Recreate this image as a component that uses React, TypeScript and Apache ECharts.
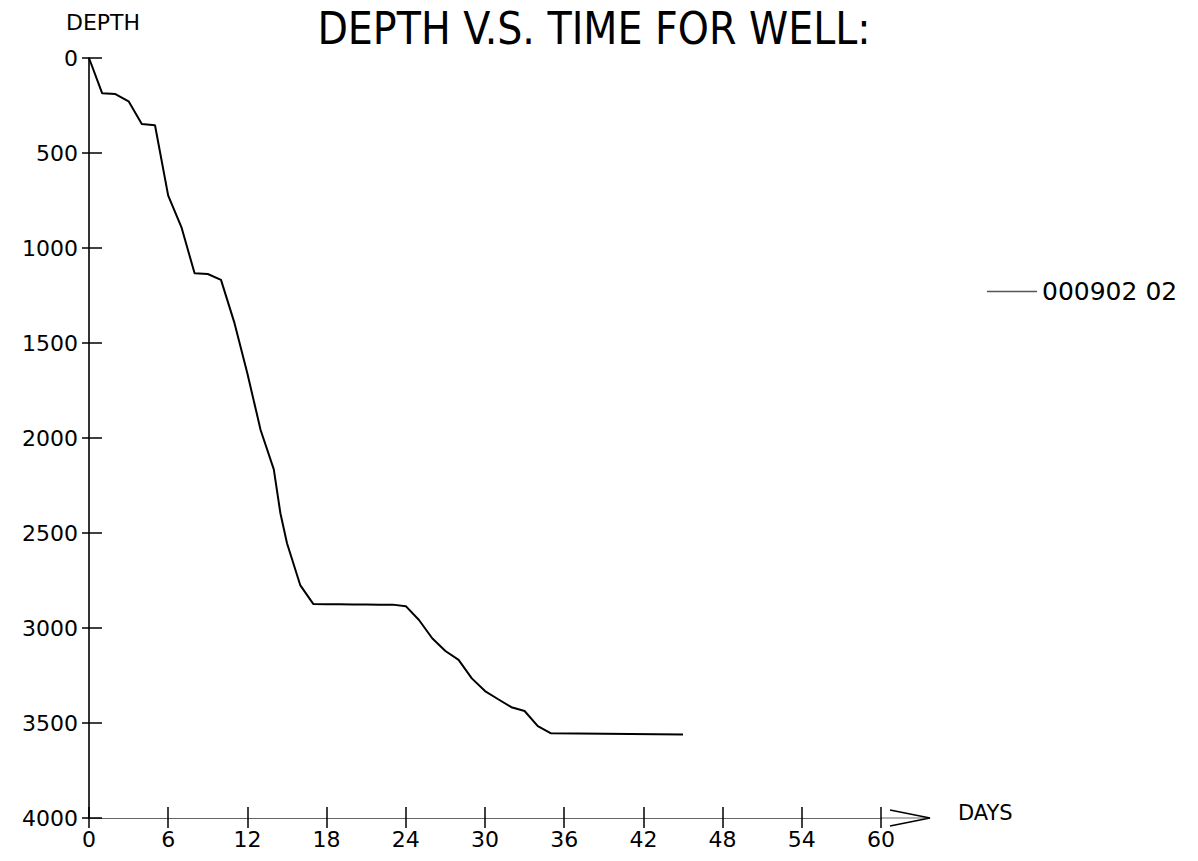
import React, { useEffect, useRef } from "react";
import * as echarts from "echarts";

const TITLE = "DEPTH V.S. TIME FOR WELL:";
const Y_NAME = "DEPTH";
const X_NAME = "DAYS";
const SERIES_NAME = "000902 02";

const days = [0, 1, 2, 3, 4, 5, 6, 7, 8, 9, 10, 11, 12, 13, 14, 14.5, 15, 16, 17, 18, 19, 20, 21, 22, 23, 24, 25, 26, 27, 28, 29, 30, 31, 32, 33, 34, 35, 45];
const depths = [0, 186, 190, 228, 347, 354, 724, 890, 1133, 1137, 1168, 1390, 1660, 1958, 2165, 2396, 2554, 2774, 2874, 2875, 2875, 2876, 2876, 2877, 2877, 2885, 2958, 3054, 3121, 3168, 3265, 3332, 3375, 3417, 3437, 3516, 3554, 3560];

const X_MIN = 0;
const X_MAX = 60;
const X_STEP = 6;
const Y_MIN = 0;
const Y_MAX = 4000;
const Y_STEP = 500;

const FONT = "'DejaVu Sans', 'Liberation Sans', sans-serif";

export default function App() {
  const ref = useRef<HTMLDivElement>(null);

  useEffect(() => {
    if (!ref.current) return;
    const chart = echarts.init(ref.current, null, { renderer: "svg" });
    const data = days.map((d, i) => [d, depths[i]]);
    const grid = { left: 89, right: 1198 - 881, top: 58, bottom: 861 - 818 };

    const xCommon = {
      type: "value" as const,
      min: X_MIN,
      max: X_MAX,
      interval: X_STEP,
      position: "bottom" as const,
      splitLine: { show: false },
    };
    const yCommon = {
      type: "value" as const,
      min: Y_MIN,
      max: Y_MAX,
      interval: Y_STEP,
      inverse: true,
      position: "left" as const,
      splitLine: { show: false },
    };

    chart.setOption({
      animation: false,
      backgroundColor: "#ffffff",
      grid,
      legend: {
        show: true,
        left: 982,
        top: 274,
        orient: "vertical",
        icon: "rect",
        itemWidth: 50,
        itemHeight: 1.5,
        itemStyle: { color: "#555555" },
        textStyle: { fontFamily: FONT, fontSize: 25, color: "#000" },
        data: [SERIES_NAME],
      },
      xAxis: [
        {
          ...xCommon,
          axisLine: { show: true, onZero: false, lineStyle: { color: "#666666", width: 1 } },
          axisTick: { show: true, inside: false, length: 10, lineStyle: { color: "#000", width: 1.5 } },
          axisLabel: { show: true, margin: 10, fontFamily: FONT, fontSize: 22, color: "#000", formatter: (v: number) => String(v) },
        },
        {
          ...xCommon,
          axisLine: { show: false, onZero: false },
          axisTick: { show: true, inside: true, length: 11, lineStyle: { color: "#000", width: 1.5 } },
          axisLabel: { show: false },
        },
      ],
      yAxis: [
        {
          ...yCommon,
          axisLine: { show: true, onZero: false, lineStyle: { color: "#000", width: 1.6 } },
          axisTick: { show: true, inside: false, length: 7, lineStyle: { color: "#000", width: 1.5 } },
          axisLabel: { show: true, margin: 11, fontFamily: FONT, fontSize: 22, color: "#000", formatter: (v: number) => String(v) },
        },
        {
          ...yCommon,
          axisLine: { show: false, onZero: false },
          axisTick: { show: true, inside: true, length: 13, lineStyle: { color: "#000", width: 1.5 } },
          axisLabel: { show: false },
        },
      ],
      series: [
        {
          name: SERIES_NAME,
          type: "line",
          xAxisIndex: 0,
          yAxisIndex: 0,
          data,
          showSymbol: false,
          symbol: "none",
          lineStyle: { color: "#000", width: 2 },
          itemStyle: { color: "#000" },
        },
      ],
    });

    const end = chart.convertToPixel({ gridIndex: 0 }, [X_MAX, Y_MAX]) as number[];
    const origin = chart.convertToPixel({ gridIndex: 0 }, [X_MIN, Y_MIN]) as number[];
    const ax = end[0];
    const ay = end[1];
    chart.setOption({
      graphic: [
        {
          type: "line",
          shape: { x1: ax, y1: ay, x2: ax + 49, y2: ay },
          style: { stroke: "#666666", lineWidth: 1 },
        },
        {
          type: "polyline",
          shape: { points: [[ax + 9, ay - 8], [ax + 49, ay], [ax + 9, ay + 8]] },
          style: { stroke: "#000", lineWidth: 1.5, fill: "none" },
        },
        {
          type: "text",
          x: ax + 77,
          y: ay - 5,
          style: {
            text: X_NAME,
            fontFamily: FONT,
            fontSize: 21,
            fill: "#000",
            textAlign: "left",
            textVerticalAlign: "middle",
          },
        },
        {
          type: "text",
          x: origin[0] + 14,
          y: origin[1] - 36,
          style: {
            text: Y_NAME,
            fontFamily: FONT,
            fontSize: 22,
            fill: "#000",
            textAlign: "center",
            textVerticalAlign: "middle",
          },
        },
        {
          type: "text",
          x: 594,
          y: 28,
          style: {
            text: TITLE,
            fontFamily: "'Liberation Sans Narrow', 'DejaVu Sans Condensed', 'Liberation Sans', sans-serif",
            fontWeight: 200,
            fontSize: 44,
            fill: "#000",
            textAlign: "center",
            textVerticalAlign: "middle",
          },
        },
      ],
    });

    return () => chart.dispose();
  }, []);

  return (
    <div
      ref={ref}
      style={{ position: "fixed", left: 0, top: 0, width: 1198, height: 861, background: "#fff" }}
    />
  );
}
